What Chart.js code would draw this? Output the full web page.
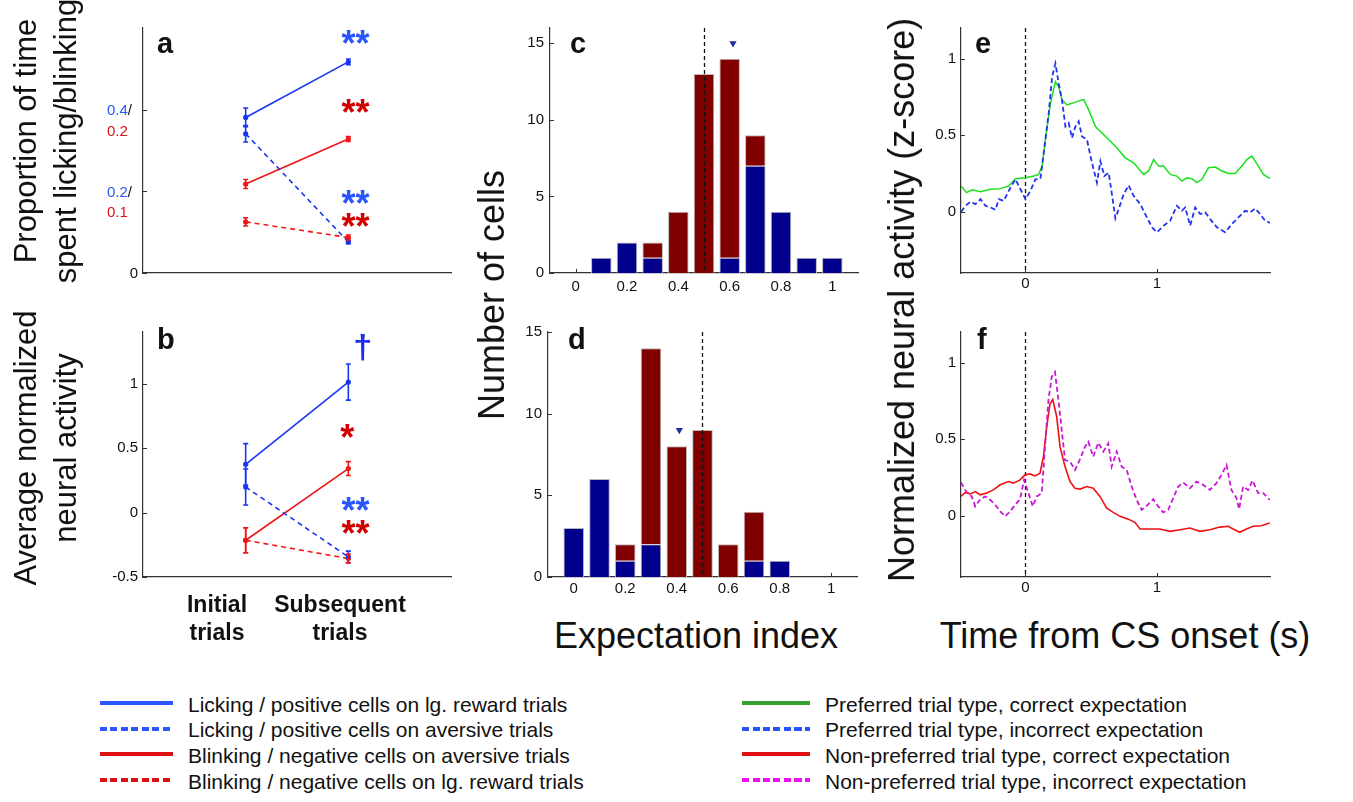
<!DOCTYPE html>
<html><head><meta charset="utf-8">
<script src="https://cdn.jsdelivr.net/npm/chart.js@4.4.1/dist/chart.umd.min.js"></script>
<style>
html,body{margin:0;padding:0;background:#fff}
body{width:1353px;height:802px;overflow:hidden;position:relative;font-family:"Liberation Sans",Arial,Helvetica,sans-serif;color:#111}
canvas{position:absolute}
.t{position:absolute;white-space:nowrap;line-height:1em}
.r{position:absolute;white-space:nowrap;text-align:center;transform:translate(-50%,-50%) rotate(-90deg)}
.ls{position:absolute;height:4px}
</style></head><body>
<script>
// ================= DATA =================
const trialPos = [1, 2];                       // Initial, Subsequent
// panel a : proportion of time (lick in 0-0.6 units, blink in 0-0.3 units)
const aLickReward = [0.381, 0.517], aLickRewardErr = [0.023, 0.007];
const aLickAversive = [0.341, 0.076], aLickAversiveErr = [0.020, 0.004];
const aBlinkAversive = [0.109, 0.164], aBlinkAversiveErr = [0.0055, 0.003];
const aBlinkReward = [0.0626, 0.0435], aBlinkRewardErr = [0.005, 0.003];
const aLickTicks = [0, 0.2, 0.4];
const aBlinkTicks = [0, 0.1, 0.2];
// panel b : average normalized neural activity
const bPosReward = [0.374, 1.012], bPosRewardErr = [0.16, 0.14];
const bPosAversive = [0.198, -0.344], bPosAversiveErr = [0.14, 0.045];
const bNegAversive = [-0.215, 0.341], bNegAversiveErr = [0.097, 0.054];
const bNegReward = [-0.215, -0.357], bNegRewardErr = [0.097, 0.035];
const bTicks = [-0.5, 0, 0.5, 1];
// significance marks (x in trial units, y in panel units)
const aMarks = [['**', 'b', 2.07, 0.573], ['**', 'r', 2.07, 0.405], ['**', 'b', 2.07, 0.18], ['**', 'r', 2.07, 0.124]];
const bMarks = [['\u2020', 'b', 2.14, 1.274], ['*', 'r', 1.99, 0.615], ['**', 'b', 2.07, 0.049], ['**', 'r', 2.07, -0.129]];
// panels c, d : expectation index histograms
const binCenters = [0, 0.1, 0.2, 0.3, 0.4, 0.5, 0.6, 0.7, 0.8, 0.9, 1.0];
const cBlue = [0, 1, 2, 1, 0, 0, 1, 7, 4, 1, 1];
const cRed  = [0, 0, 0, 1, 4, 13, 13, 2, 0, 0, 0];
const dBlue = [3, 6, 1, 2, 0, 0, 0, 1, 1, 0, 0];
const dRed  = [0, 0, 1, 12, 8, 9, 2, 3, 0, 0, 0];
const cMean = [0.613, 15], dMean = [0.41, 9];
const chanceIndex = 0.5;
const histXTicks = [0, 0.2, 0.4, 0.6, 0.8, 1];
const histYTicks = [0, 5, 10, 15];
// panel e
const eCorrT = [-0.489,-0.448,-0.405,-0.342,-0.266,-0.19,-0.127,-0.076,0,0.063,0.101,0.127,0.152,0.19,0.228,0.253,0.278,0.316,0.354,0.392,0.443,0.481,0.532,0.582,0.646,0.696,0.759,0.823,0.899,0.937,0.975,1.013,1.051,1.101,1.152,1.19,1.228,1.266,1.304,1.342,1.392,1.443,1.494,1.544,1.595,1.646,1.684,1.722,1.772,1.81,1.861];
const eCorrV = [0.168,0.125,0.143,0.13,0.147,0.151,0.168,0.216,0.222,0.233,0.244,0.298,0.47,0.708,0.849,0.816,0.73,0.698,0.708,0.719,0.734,0.665,0.557,0.514,0.46,0.417,0.352,0.32,0.244,0.266,0.341,0.298,0.298,0.244,0.233,0.2,0.222,0.216,0.19,0.212,0.287,0.292,0.266,0.25,0.25,0.298,0.341,0.363,0.298,0.244,0.216];
const eIncT = [-0.489,-0.456,-0.418,-0.380,-0.342,-0.304,-0.266,-0.228,-0.203,-0.165,-0.127,-0.076,-0.038,0,0.038,0.076,0.114,0.139,0.177,0.203,0.228,0.253,0.278,0.304,0.329,0.354,0.380,0.405,0.430,0.468,0.506,0.544,0.570,0.600,0.633,0.658,0.684,0.709,0.747,0.785,0.823,0.873,0.924,0.962,1.0,1.051,1.101,1.152,1.190,1.215,1.253,1.291,1.329,1.367,1.405,1.456,1.519,1.570,1.620,1.671,1.709,1.747,1.785,1.823,1.861];
const eIncV = [0,0.039,0.065,0.05,0.082,0.039,0.028,0.013,0.082,0.071,0.136,0.212,0.147,0.082,0.136,0.212,0.216,0.384,0.644,0.881,0.968,0.838,0.73,0.557,0.579,0.482,0.557,0.59,0.492,0.471,0.32,0.19,0.33,0.233,0.255,0.114,-0.043,0.017,0.114,0.173,0.104,0.05,-0.037,-0.102,-0.134,-0.091,-0.058,0.039,0.006,0.028,-0.091,0.028,-0.015,-0.004,-0.048,-0.102,-0.134,-0.08,-0.037,0.006,-0.004,0.022,-0.015,-0.058,-0.073];
// panel f
const fCorrT = [-0.491,-0.458,-0.420,-0.382,-0.344,-0.294,-0.243,-0.192,-0.129,-0.091,-0.041,-0.003,0.035,0.073,0.111,0.137,0.162,0.187,0.208,0.238,0.263,0.301,0.339,0.377,0.415,0.466,0.516,0.567,0.618,0.668,0.719,0.782,0.833,0.871,0.947,1.023,1.099,1.175,1.251,1.327,1.403,1.478,1.542,1.580,1.630,1.681,1.732,1.795,1.858];
const fCorrV = [0.126,0.152,0.143,0.158,0.137,0.148,0.169,0.202,0.223,0.213,0.234,0.267,0.273,0.26,0.278,0.386,0.581,0.733,0.759,0.646,0.451,0.321,0.223,0.18,0.174,0.191,0.18,0.126,0.05,0.022,-0.004,-0.022,-0.043,-0.087,-0.087,-0.087,-0.102,-0.091,-0.08,-0.102,-0.091,-0.074,-0.069,-0.087,-0.108,-0.087,-0.069,-0.065,-0.048];
const fIncT = [-0.491,-0.446,-0.408,-0.382,-0.344,-0.306,-0.268,-0.230,-0.192,-0.154,-0.116,-0.078,-0.041,-0.010,0.023,0.056,0.086,0.124,0.149,0.175,0.200,0.225,0.251,0.276,0.301,0.339,0.377,0.415,0.453,0.478,0.516,0.554,0.592,0.630,0.656,0.694,0.732,0.770,0.808,0.846,0.884,0.922,0.972,1.010,1.048,1.086,1.124,1.162,1.200,1.251,1.301,1.352,1.403,1.453,1.491,1.529,1.567,1.605,1.625,1.656,1.694,1.727,1.770,1.808,1.858];
const fIncV = [0.217,0.152,0.126,0.061,0.108,0.126,0.104,0.072,0.028,-0.004,0.028,0.072,0.108,0.234,0.148,0.061,0.126,0.148,0.451,0.755,0.907,0.939,0.755,0.56,0.364,0.354,0.299,0.369,0.451,0.484,0.386,0.477,0.419,0.473,0.321,0.419,0.321,0.299,0.191,0.104,0.039,0.065,0.108,0.061,0.022,0.039,0.115,0.191,0.217,0.18,0.223,0.202,0.169,0.213,0.267,0.332,0.169,0.115,0.043,0.191,0.169,0.23,0.148,0.148,0.104];
const timeXTicks = [0, 1];
const timeYTicks = [0, 0.5, 1];
const csOnset = 0;
// legend
const legendLeft = ['Licking / positive cells on lg. reward trials', 'Licking / positive cells on aversive trials', 'Blinking / negative cells on aversive trials', 'Blinking / negative cells on lg. reward trials'];
const legendRight = ['Preferred trial type, correct expectation', 'Preferred trial type, incorrect expectation', 'Non-preferred trial type, correct expectation', 'Non-preferred trial type, incorrect expectation'];

// ================= STYLE =================
const FONT = '"Liberation Sans", Arial, Helvetica, sans-serif';
Chart.defaults.font.family = FONT;
Chart.defaults.color = '#111';
const BLUE = '#1836f2', RED = '#ee1616', LBLUE = '#2a55ff', LRED = '#dd1111';
const NAVY = '#00008c', MAROON = '#800000';
const G = {padL: 60, padT: 20, padR: 12, padB: 35};

function mkCanvas(L, T, R, B) {
  const c = document.createElement('canvas');
  const w = R - L + G.padL + G.padR, h = B - T + G.padT + G.padB;
  c.width = w; c.height = h;
  Object.assign(c.style, {left: (L - G.padL) + 'px', top: (T - G.padT) + 'px', width: w + 'px', height: h + 'px'});
  document.body.appendChild(c);
  return c;
}
function setTicks(arr) { return s => { s.ticks = arr.map(v => ({value: v})); }; }
function axis(pos, o, tickArr, pad, show) {
  const base = {
    type: 'linear', position: pos, offset: false,
    grid: {display: false, drawTicks: false},
    border: {display: true, color: '#333', width: 1.2},
    ticks: {display: show, font: {size: 15, family: FONT}, color: '#111', padding: pad, autoSkip: false, maxRotation: 0, callback: v => String(v)},
    afterBuildTicks: setTicks(tickArr),
    afterFit: pos === 'left' ? (s => { s.width = G.padL; }) : (s => { s.height = G.padB; })
  };
  return Object.assign(base, o);
}
function options(scales) {
  return {
    responsive: false, animation: false, devicePixelRatio: 1,
    layout: {padding: {left: 0, top: G.padT, right: G.padR, bottom: 0}},
    plugins: {legend: {display: false}, tooltip: {enabled: false}},
    scales
  };
}
function pts(xs, ys) { return xs.map((x, i) => ({x, y: ys[i]})); }
function inTicks(chart, xs, ys, ySc) {
  const {ctx, chartArea: {left, bottom}} = chart, x = chart.scales.x, y = chart.scales[ySc || 'y'];
  ctx.save(); ctx.strokeStyle = '#333'; ctx.lineWidth = 1; ctx.beginPath();
  xs.forEach(v => { const p = Math.round(x.getPixelForValue(v)) + 0.5; ctx.moveTo(p, bottom); ctx.lineTo(p, bottom - 4); });
  ys.forEach(v => { const p = Math.round(y.getPixelForValue(v)) + 0.5; ctx.moveTo(left, p); ctx.lineTo(left + 4, p); });
  ctx.stroke(); ctx.restore();
}
function vDash(chart, v) {
  const {ctx, chartArea: {top, bottom}} = chart; const p = Math.round(chart.scales.x.getPixelForValue(v)) + 0.5;
  ctx.save(); ctx.strokeStyle = '#111'; ctx.lineWidth = 1.3; ctx.setLineDash([4, 3]);
  ctx.beginPath(); ctx.moveTo(p, top); ctx.lineTo(p, bottom); ctx.stroke(); ctx.restore();
}
const errorBars = {id: 'errorBars', afterDatasetsDraw(chart) {
  const ctx = chart.ctx;
  chart.data.datasets.forEach((ds, i) => {
    if (!ds.errors) return;
    const meta = chart.getDatasetMeta(i), ys = chart.scales[meta.yAxisID];
    ctx.save(); ctx.strokeStyle = ds.borderColor; ctx.lineWidth = 1.6; ctx.setLineDash([]);
    meta.data.forEach((pt, j) => {
      const v = ds.data[j].y, e = ds.errors[j];
      const y1 = ys.getPixelForValue(v - e), y2 = ys.getPixelForValue(v + e);
      ctx.beginPath(); ctx.moveTo(pt.x, y1); ctx.lineTo(pt.x, y2);
      ctx.moveTo(pt.x - 2.5, y1); ctx.lineTo(pt.x + 2.5, y1); ctx.moveTo(pt.x - 2.5, y2); ctx.lineTo(pt.x + 2.5, y2);
      ctx.stroke();
    });
    ctx.restore();
  });
}};
function drawMarks(chart, marks) {
  const ctx = chart.ctx, x = chart.scales.x, y = chart.scales.y;
  ctx.save(); ctx.textAlign = 'center'; ctx.textBaseline = 'alphabetic';
  marks.forEach(([t, c, mx, my]) => {
    const dagger = t === '\u2020';
    const size = dagger ? 34 : 36;
    ctx.font = 'bold ' + size + 'px ' + FONT;
    ctx.fillStyle = c === 'b' ? LBLUE : '#d40000';
    if (dagger) ctx.fillStyle = '#1a2cf0';
    const shift = dagger ? 0.30 * size : 0.47 * size;
    ctx.fillText(t, x.getPixelForValue(mx), y.getPixelForValue(my) + shift);
  });
  ctx.restore();
}
function trialSeries(vals, errs, color, dashed, yId) {
  return {data: pts(trialPos, vals), errors: errs, yAxisID: yId || 'y', showLine: true, borderColor: color, backgroundColor: color,
    borderWidth: 1.6, borderDash: dashed ? [5, 4] : [], pointRadius: 2.6, pointBorderWidth: 0, pointBackgroundColor: color};
}

// ================= PANEL a =================
new Chart(mkCanvas(143, 28, 451, 273), {
  type: 'scatter',
  data: {datasets: [
    trialSeries(aLickReward, aLickRewardErr, BLUE, false),
    trialSeries(aLickAversive, aLickAversiveErr, BLUE, true),
    trialSeries(aBlinkAversive, aBlinkAversiveErr, RED, false, 'y2'),
    trialSeries(aBlinkReward, aBlinkRewardErr, RED, true, 'y2')
  ]},
  options: options({
    x: axis('bottom', {min: 0, max: 3}, [], 0, false),
    y: axis('left', {min: 0, max: 0.6}, aLickTicks, 5, false),
    y2: {type: 'linear', display: false, min: 0, max: 0.3}
  }),
  plugins: [errorBars, {id: 'aExtra', afterDraw(chart) {
    inTicks(chart, [], aLickTicks);
    const ctx = chart.ctx, y = chart.scales.y, left = chart.chartArea.left;
    ctx.save(); ctx.font = '15px ' + FONT; ctx.textBaseline = 'middle';
    aLickTicks.forEach((v, i) => {
      const py = y.getPixelForValue(v);
      if (v === 0) { ctx.textAlign = 'right'; ctx.fillStyle = '#111'; ctx.fillText('0', left - 5, py + 1); return; }
      const x0 = left - 36; ctx.textAlign = 'left';
      const s = String(v); ctx.fillStyle = LBLUE; ctx.fillText(s, x0, py + 1.5);
      const w = ctx.measureText(s).width; ctx.fillStyle = '#111'; ctx.fillText('/', x0 + w, py + 1.5);
      ctx.fillStyle = LRED; ctx.fillText(String(aBlinkTicks[i]), x0, py + 22);
    });
    ctx.restore();
    drawMarks(chart, aMarks);
  }}]
});

// ================= PANEL b =================
new Chart(mkCanvas(143, 332, 451, 577), {
  type: 'scatter',
  data: {datasets: [
    trialSeries(bPosReward, bPosRewardErr, BLUE, false),
    trialSeries(bPosAversive, bPosAversiveErr, BLUE, true),
    trialSeries(bNegAversive, bNegAversiveErr, RED, false),
    trialSeries(bNegReward, bNegRewardErr, RED, true)
  ]},
  options: options({
    x: axis('bottom', {min: 0, max: 3}, [], 0, false),
    y: axis('left', {min: -0.5, max: 1.4}, bTicks, 5, true)
  }),
  plugins: [errorBars, {id: 'bExtra', afterDraw(chart) { inTicks(chart, [], bTicks); drawMarks(chart, bMarks); }}]
});

// ================= PANELS c, d =================
function histChart(L, T, R, B, blue, red, mean, ymax, xpad) {
  new Chart(mkCanvas(L, T, R, B), {
    type: 'bar',
    data: {datasets: [
      {data: pts(binCenters, blue.map(v => v || null)), stack: 's', backgroundColor: NAVY, borderColor: '#b8b8b8', borderWidth: 1, borderSkipped: 'start', barPercentage: 1, categoryPercentage: 0.8},
      {data: pts(binCenters, red.map(v => v || null)), stack: 's', backgroundColor: MAROON, borderColor: '#b8b8b8', borderWidth: 1, borderSkipped: 'start', barPercentage: 1, categoryPercentage: 0.8},
      {type: 'line', data: [{x: mean[0], y: mean[1]}], showLine: false, pointStyle: 'triangle', rotation: 180, pointRadius: 4.2,
        backgroundColor: '#1e2e9e', borderColor: '#1e2e9e', pointBorderWidth: 0}
    ]},
    options: options({
      x: axis('bottom', {min: -0.1, max: 1.1, stacked: true}, histXTicks, xpad, true),
      y: axis('left', {min: 0, max: ymax, stacked: true}, histYTicks, 6, true)
    }),
    plugins: [{id: 'hx', beforeDatasetsDraw(chart) { inTicks(chart, histXTicks, histYTicks); },
      afterDatasetsDraw(chart) { vDash(chart, chanceIndex); }}]
  });
}
histChart(550, 28, 858, 273, cBlue, cRed, cMean, 16, 5);
histChart(548, 332, 857, 577, dBlue, dRed, dMean, 15, 3);

// ================= PANELS e, f =================
function timeChart(T, B, s1, s2) {
  new Chart(mkCanvas(961, T, 1270, B), {
    type: 'scatter',
    data: {datasets: [s1, s2].map(s => ({data: s.d, showLine: true, borderColor: s.c, borderWidth: s.w, borderDash: s.dash, pointRadius: 0, tension: 0}))},
    options: options({
      x: axis('bottom', {min: -0.49, max: 1.86}, timeXTicks, 2, true),
      y: axis('left', {min: -0.4, max: 1.2}, timeYTicks, 5, true)
    }),
    plugins: [{id: 'tx', beforeDatasetsDraw(chart) { vDash(chart, csOnset); }, afterDraw(chart) { inTicks(chart, timeXTicks, timeYTicks); }}]
  });
}
timeChart(28, 273, {d: pts(eIncT, eIncV), c: '#2233f0', w: 1.8, dash: [5, 3]}, {d: pts(eCorrT, eCorrV), c: '#19e019', w: 1.5, dash: []});
timeChart(332, 577, {d: pts(fIncT, fIncV), c: '#cc16d6', w: 1.8, dash: [5, 3]}, {d: pts(fCorrT, fCorrV), c: '#f01010', w: 1.6, dash: []});

// ================= TEXT =================
function txt(html, cls, style) {
  const d = document.createElement('div'); d.className = cls; d.innerHTML = html;
  Object.assign(d.style, style); document.body.appendChild(d); return d;
}
// panel letters
[['a', 157, 52], ['b', 157, 348], ['c', 570, 52], ['d', 568, 348], ['e', 975, 52], ['f', 977, 348]].forEach(([l, x, bl]) =>
  txt(l, 't', {left: x + 'px', top: (bl - 0.8465 * 29) + 'px', font: 'bold 29px ' + FONT}));
// rotated axis titles
txt('Proportion of time<br>spent licking/blinking', 'r', {left: '46px', top: '141px', font: '31px ' + FONT, lineHeight: '40px'});
txt('Average normalized<br>neural activity', 'r', {left: '46px', top: '448px', font: '31px ' + FONT, lineHeight: '40px'});
txt('Number of cells', 'r', {left: '492px', top: '295px', font: '36px ' + FONT, lineHeight: '1em'});
txt('Normalized neural activity (z-score)', 'r', {left: '902px', top: '300px', font: '36px ' + FONT, lineHeight: '1em'});
// horizontal axis titles
txt('Expectation index', 't', {left: '696px', top: (645 - 0.8465 * 36) + 'px', font: '36px ' + FONT, transform: 'translateX(-50%)'});
txt('Time from CS onset (s)', 't', {left: '1125px', top: (645 - 0.8465 * 36) + 'px', font: '36px ' + FONT, transform: 'translateX(-50%)'});
txt('Initial<br>trials', 't', {left: '217px', top: '590px', font: 'bold 23px ' + FONT, lineHeight: '28px', textAlign: 'center', transform: 'translateX(-50%)'});
txt('Subsequent<br>trials', 't', {left: '340px', top: '590px', font: 'bold 23px ' + FONT, lineHeight: '28px', textAlign: 'center', transform: 'translateX(-50%)'});

// ================= LEGEND =================
function sample(x, y, w, color, dashed) {
  const d = document.createElement('div'); d.className = 'ls';
  Object.assign(d.style, {left: x + 'px', top: (y - 2) + 'px', width: w + 'px',
    background: dashed ? `repeating-linear-gradient(90deg, ${color} 0 7px, transparent 7px 10.5px)` : color});
  document.body.appendChild(d);
}
const legLeftStyle = [[LBLUE, false], [LBLUE, true], [LRED, false], [LRED, true]];
const legRightStyle = [['#37a032', false], ['#2255ff', true], ['#dd1111', false], ['#ee11ee', true]];
legendLeft.forEach((s, i) => {
  const y = 703 + i * 25.7;
  sample(100, y, 73, legLeftStyle[i][0], legLeftStyle[i][1]);
  txt(s, 't', {left: '188px', top: (y + 7.5 - 0.8465 * 21) + 'px', font: '21px ' + FONT});
});
legendRight.forEach((s, i) => {
  const y = 703 + i * 25.7;
  sample(742, y, 68, legRightStyle[i][0], legRightStyle[i][1]);
  txt(s, 't', {left: '825px', top: (y + 7.5 - 0.8465 * 21) + 'px', font: '21px ' + FONT});
});
</script>
</body></html>
